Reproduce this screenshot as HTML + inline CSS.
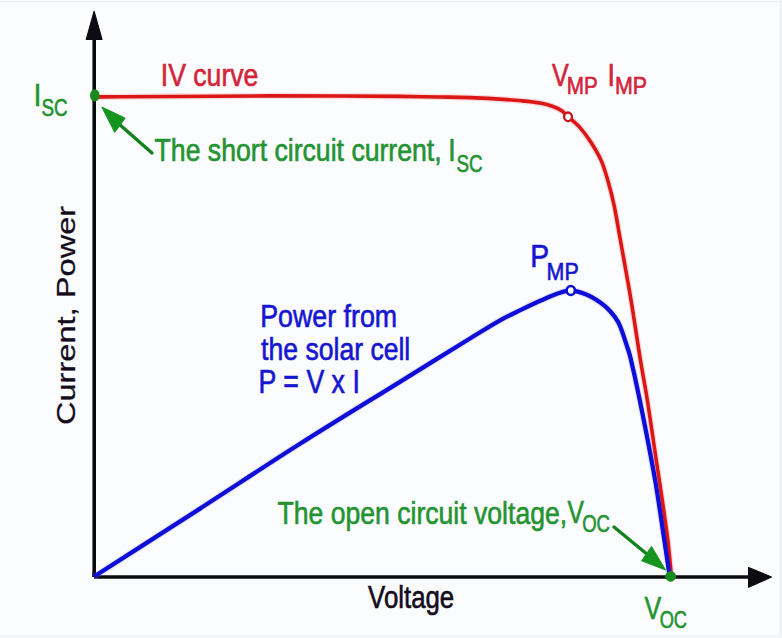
<!DOCTYPE html>
<html><head><meta charset="utf-8"><style>
html,body{margin:0;padding:0;background:#fbfcfe;width:782px;height:638px;overflow:hidden;}
svg{display:block;}
text{font-family:"Liberation Sans",sans-serif;}
</style></head><body>
<svg width="782" height="638" viewBox="0 0 782 638">
<rect x="0" y="0" width="782" height="638" fill="#fbfcfe"/>
<rect x="0" y="1" width="782" height="1" fill="#ebebed"/>
<rect x="779" y="0" width="3" height="638" fill="#f1f2f4"/>
<rect x="0" y="635" width="782" height="3" fill="#f4f5f7"/>

<path d="M94.2,577 L94.2,38" stroke="#0c0a12" stroke-width="3.6" fill="none"/>
<path d="M94.2,577 L750,577" stroke="#0c0a12" stroke-width="3.6" fill="none"/>
<path d="M94.2,577 L94.2,572" stroke="#0c0a12" stroke-width="3.6" fill="none" stroke-linejoin="round"/>
<polygon points="94.1,11.3 102,39.4 86.3,39.4" fill="#0c0a12" stroke="#0c0a12" stroke-width="1.2" stroke-linejoin="round"/>
<polygon points="771.5,577 748.6,567.6 748.6,587.3" fill="#0c0a12" stroke="#0c0a12" stroke-width="1.2" stroke-linejoin="round"/>
<path d="M94.20,96.90 C102.80,96.87 111.40,96.85 120.00,96.80 C170.00,96.52 220.00,95.97 270.00,95.90 C313.33,95.84 356.67,96.12 400.00,96.40 C413.33,96.49 426.67,96.77 440.00,97.00 C450.00,97.17 460.01,97.26 470.00,97.60 C478.54,97.89 487.07,98.37 495.60,98.90 C504.14,99.43 512.68,100.00 521.20,100.80 C527.58,101.40 534.00,101.97 540.30,103.10 C544.64,103.87 548.97,105.00 553.10,106.50 C556.24,107.64 559.36,109.13 562.10,111.00 C564.26,112.47 565.86,114.70 567.80,116.50 C571.83,120.24 576.34,123.53 580.00,127.60 C583.94,131.97 587.41,136.84 590.60,141.80 C594.48,147.84 598.32,154.05 601.20,160.60 C604.18,167.38 606.14,174.65 608.20,181.80 C610.44,189.55 612.40,197.41 614.10,205.30 C615.86,213.48 617.13,221.76 618.60,230.00 C622.76,253.33 627.08,276.63 631.00,300.00 C634.35,319.96 637.14,340.02 640.40,360.00 C642.58,373.35 645.19,386.64 647.30,400.00 C650.46,419.97 653.20,440.00 656.20,460.00 C657.20,466.67 658.33,473.32 659.30,480.00 C662.20,499.99 665.28,519.96 667.80,540.00 C669.35,552.30 670.27,564.67 671.50,577.00" stroke="#f27a7a" stroke-opacity="0.25" stroke-width="6.2" fill="none" stroke-linejoin="round"/>
<path d="M94.20,576.50 C129.47,553.87 164.78,531.31 200.00,508.60 C233.38,487.08 266.46,465.07 300.00,443.80 C333.12,422.80 366.66,402.45 400.00,381.80 C423.32,367.35 446.62,352.85 470.00,338.50 C480.12,332.29 490.16,325.91 500.50,320.10 C507.12,316.38 514.06,313.21 520.90,309.90 C527.69,306.61 534.51,303.37 541.40,300.30 C546.78,297.90 552.14,295.37 557.70,293.50 C561.84,292.11 566.25,290.34 570.50,290.50 C575.81,290.70 581.38,292.54 586.40,294.60 C591.55,296.71 596.41,299.81 601.00,303.00 C604.28,305.28 607.31,308.04 610.00,311.00 C612.95,314.24 615.72,317.81 617.90,321.60 C619.92,325.11 621.18,329.08 622.60,332.90 C623.98,336.61 625.09,340.42 626.30,344.20 C627.66,348.46 629.25,352.66 630.30,357.00 C633.74,371.26 636.85,385.62 639.75,400.00 C645.12,426.62 650.41,453.26 655.10,480.00 C658.59,499.93 661.27,519.99 664.30,540.00 C666.17,552.33 667.97,564.67 669.80,577.00" stroke="#8a8aff" stroke-opacity="0.2" stroke-width="6.6" fill="none" stroke-linejoin="round"/>
<path d="M94.20,96.90 C102.80,96.87 111.40,96.85 120.00,96.80 C170.00,96.52 220.00,95.97 270.00,95.90 C313.33,95.84 356.67,96.12 400.00,96.40 C413.33,96.49 426.67,96.77 440.00,97.00 C450.00,97.17 460.01,97.26 470.00,97.60 C478.54,97.89 487.07,98.37 495.60,98.90 C504.14,99.43 512.68,100.00 521.20,100.80 C527.58,101.40 534.00,101.97 540.30,103.10 C544.64,103.87 548.97,105.00 553.10,106.50 C556.24,107.64 559.36,109.13 562.10,111.00 C564.26,112.47 565.86,114.70 567.80,116.50 C571.83,120.24 576.34,123.53 580.00,127.60 C583.94,131.97 587.41,136.84 590.60,141.80 C594.48,147.84 598.32,154.05 601.20,160.60 C604.18,167.38 606.14,174.65 608.20,181.80 C610.44,189.55 612.40,197.41 614.10,205.30 C615.86,213.48 617.13,221.76 618.60,230.00 C622.76,253.33 627.08,276.63 631.00,300.00 C634.35,319.96 637.14,340.02 640.40,360.00 C642.58,373.35 645.19,386.64 647.30,400.00 C650.46,419.97 653.20,440.00 656.20,460.00 C657.20,466.67 658.33,473.32 659.30,480.00 C662.20,499.99 665.28,519.96 667.80,540.00 C669.35,552.30 670.27,564.67 671.50,577.00" stroke="#dc1515" stroke-width="3.6" fill="none" stroke-linejoin="round"/>
<path d="M94.20,576.50 C129.47,553.87 164.78,531.31 200.00,508.60 C233.38,487.08 266.46,465.07 300.00,443.80 C333.12,422.80 366.66,402.45 400.00,381.80 C423.32,367.35 446.62,352.85 470.00,338.50 C480.12,332.29 490.16,325.91 500.50,320.10 C507.12,316.38 514.06,313.21 520.90,309.90 C527.69,306.61 534.51,303.37 541.40,300.30 C546.78,297.90 552.14,295.37 557.70,293.50 C561.84,292.11 566.25,290.34 570.50,290.50 C575.81,290.70 581.38,292.54 586.40,294.60 C591.55,296.71 596.41,299.81 601.00,303.00 C604.28,305.28 607.31,308.04 610.00,311.00 C612.95,314.24 615.72,317.81 617.90,321.60 C619.92,325.11 621.18,329.08 622.60,332.90 C623.98,336.61 625.09,340.42 626.30,344.20 C627.66,348.46 629.25,352.66 630.30,357.00 C633.74,371.26 636.85,385.62 639.75,400.00 C645.12,426.62 650.41,453.26 655.10,480.00 C658.59,499.93 661.27,519.99 664.30,540.00 C666.17,552.33 667.97,564.67 669.80,577.00" stroke="#0e0ed6" stroke-width="4.3" fill="none" stroke-linejoin="round"/>
<ellipse cx="568" cy="116.8" rx="3.9" ry="4.3" fill="#fff" stroke="#c8121e" stroke-width="2.3"/>
<ellipse cx="570.8" cy="290.5" rx="4.1" ry="4.5" fill="#fff" stroke="#0e0ed6" stroke-width="2.6"/>
<ellipse cx="94.8" cy="95.4" rx="4.8" ry="6.2" fill="#168a1c"/>
<circle cx="670.6" cy="576.3" r="5.4" fill="#168a1c"/>
<!-- short circuit arrow -->
<path d="M152,153 L119,124" stroke="#12831c" stroke-width="3.4" stroke-linecap="round"/>
<polygon points="101.8,107 125.2,118.1 114.7,132.4" fill="#169420" stroke="#169420" stroke-width="1" stroke-linejoin="round"/>
<!-- open circuit arrow -->
<path d="M614,527 L648,555" stroke="#12831c" stroke-width="3.4" stroke-linecap="round"/>
<polygon points="665.6,570 651.5,546.4 641.6,560.8" fill="#169420" stroke="#169420" stroke-width="1" stroke-linejoin="round"/>

<text transform="translate(33.65,105.80) scale(0.8500,1)" font-size="31.77" fill="#249332" stroke="#249332" stroke-width="0.65" >I</text>
<text transform="translate(41.54,116.10) scale(0.7590,1)" font-size="24.82" fill="#249332" stroke="#249332" stroke-width="0.65" >SC</text>
<text transform="translate(160.74,86.30) scale(0.8267,1)" font-size="32.20" fill="#d4243a" stroke="#d4243a" stroke-width="0.65" >IV curve</text>
<text transform="translate(552.09,86.40) scale(0.7855,1)" font-size="31.91" fill="#d4243a" stroke="#d4243a" stroke-width="0.65" >V</text>
<text transform="translate(566.71,93.80) scale(0.8566,1)" font-size="24.11" fill="#d4243a" stroke="#d4243a" stroke-width="0.65" >MP</text>
<text transform="translate(607.57,86.40) scale(0.8500,1)" font-size="31.63" fill="#d4243a" stroke="#d4243a" stroke-width="0.65" >I</text>
<text transform="translate(615.05,93.90) scale(0.8818,1)" font-size="24.26" fill="#d4243a" stroke="#d4243a" stroke-width="0.65" >MP</text>
<text transform="translate(154.60,160.90) scale(0.8495,1)" font-size="31.35" fill="#249332" stroke="#249332" stroke-width="0.65" >The short circuit current,</text>
<text transform="translate(448.32,160.60) scale(0.8500,1)" font-size="31.21" fill="#249332" stroke="#249332" stroke-width="0.65" >I</text>
<text transform="translate(456.54,171.90) scale(0.7678,1)" font-size="24.54" fill="#249332" stroke="#249332" stroke-width="0.65" >SC</text>
<text transform="translate(530.17,266.70) scale(0.8811,1)" font-size="32.20" fill="#1616d0" stroke="#1616d0" stroke-width="0.65" >P</text>
<text transform="translate(546.54,279.80) scale(0.8746,1)" font-size="24.54" fill="#1616d0" stroke="#1616d0" stroke-width="0.65" >MP</text>
<text transform="translate(260.20,326.60) scale(0.8357,1)" font-size="32.06" fill="#1616d0" stroke="#1616d0" stroke-width="0.65" >Power from</text>
<text transform="translate(261.10,359.50) scale(0.8633,1)" font-size="30.78" fill="#1616d0" stroke="#1616d0" stroke-width="0.65" >the solar cell</text>
<text transform="translate(258.61,393.20) scale(0.8193,1)" font-size="32.62" fill="#1616d0" stroke="#1616d0" stroke-width="0.65" >P = V x I</text>
<text transform="translate(277.60,523.50) scale(0.8255,1)" font-size="32.20" fill="#249332" stroke="#249332" stroke-width="0.65" >The open circuit voltage,</text>
<text transform="translate(567.39,523.40) scale(0.7678,1)" font-size="32.06" fill="#249332" stroke="#249332" stroke-width="0.65" >V</text>
<text transform="translate(582.22,531.70) scale(0.7592,1)" font-size="24.40" fill="#249332" stroke="#249332" stroke-width="0.65" >OC</text>
<text transform="translate(368.09,608.10) scale(0.8053,1)" font-size="32.06" fill="#140c1c" stroke="#140c1c" stroke-width="0.65" >Voltage</text>
<text transform="translate(644.39,619.30) scale(0.7997,1)" font-size="31.35" fill="#249332" stroke="#249332" stroke-width="0.65" >V</text>
<text transform="translate(659.64,628.00) scale(0.7390,1)" font-size="24.68" fill="#249332" stroke="#249332" stroke-width="0.65" >OC</text>
<text transform="translate(74.80,425.06) rotate(-90) scale(1.2632,1)" font-size="25.82" letter-spacing="0.000" fill="#140c1c" stroke="#140c1c" stroke-width="0.25">Current, Power</text>
</svg>
</body></html>
